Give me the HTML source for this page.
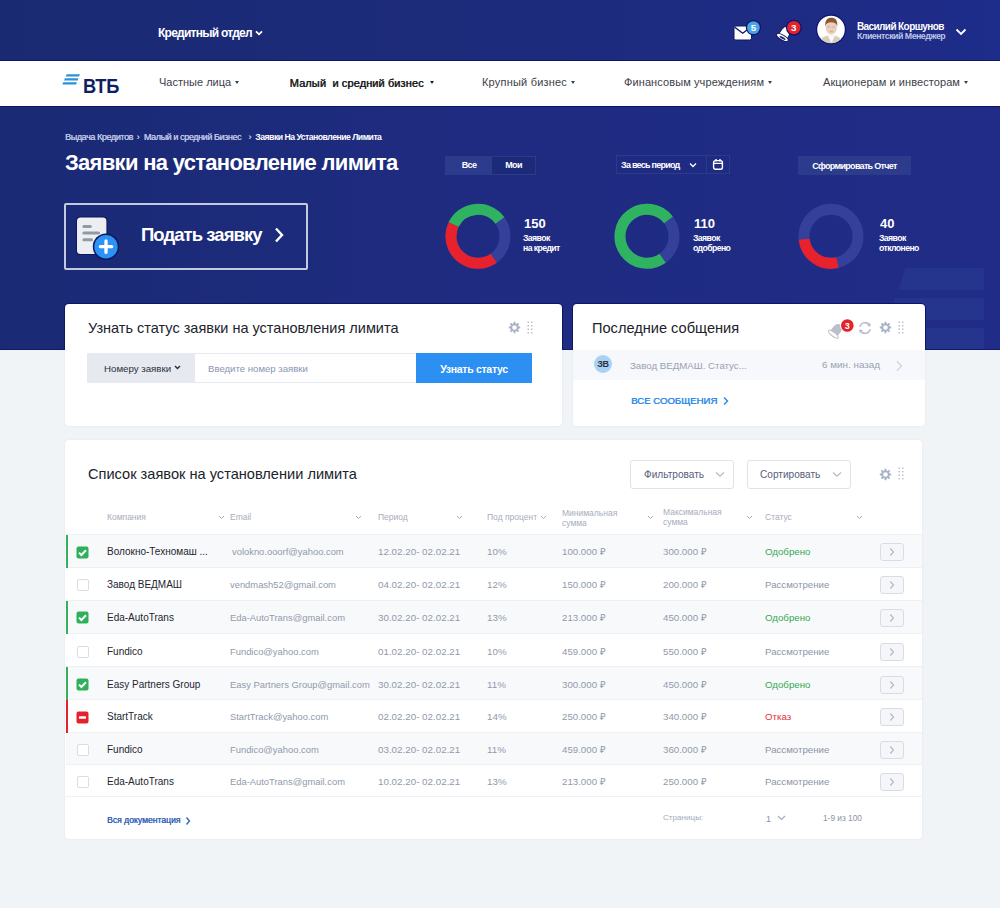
<!DOCTYPE html>
<html><head><meta charset="utf-8">
<style>
*{margin:0;padding:0;box-sizing:border-box}
html,body{width:1000px;height:908px;overflow:hidden;background:#f0f4f7;font-family:"Liberation Sans",sans-serif}
.a{position:absolute;white-space:nowrap}
#top{position:absolute;left:0;top:0;width:1000px;height:60px;background:linear-gradient(90deg,#1a2a72 0%,#1d2b7c 50%,#1e2c8a 100%)}
#nav{position:absolute;z-index:2;left:0;top:60px;width:1000px;height:47px;background:#fff;border-top:1px solid #0d1766;border-bottom:1px solid #0d1766}
#hero{position:absolute;left:0;top:106px;width:1000px;height:244px;background:linear-gradient(90deg,#1a2a74 0%,#1e2b7f 40%,#202c87 100%);overflow:hidden}
.w{color:#fff}
.nv{font-size:11px;color:#3d4048;line-height:14px;letter-spacing:0px}
.caret{display:inline-block;width:0;height:0;border-left:2.5px solid transparent;border-right:2.5px solid transparent;border-top:3px solid #3d4048;vertical-align:middle;margin-left:4px;position:relative;top:-1px}
.card{position:absolute;background:#fff;border-radius:4px;box-shadow:0 0 2px rgba(30,40,80,0.08)}
</style></head><body>

<div id="top">
  <div class="a w" style="left:158px;top:26px;font-size:12px;font-weight:700;line-height:14px;letter-spacing:-0.75px">Кредитный отдел</div>
  <svg class="a" style="left:254.5px;top:29.5px" width="8" height="6" viewBox="0 0 8 6"><path d="M1 1.3 L4 4.3 L7 1.3" fill="none" stroke="#fff" stroke-width="1.8"/></svg>

  <!-- mail -->
  <svg class="a" style="left:730px;top:18px" width="32" height="26" viewBox="0 0 32 26">
    <rect x="4" y="8" width="17.5" height="14" rx="1.8" fill="#fff" stroke="#0f1a5c" stroke-width="1"/>
    <path d="M4.8 9.2 L12.7 15.2 L20.7 9.2" fill="none" stroke="#0d1468" stroke-width="1.4"/>
    <circle cx="23.4" cy="9.6" r="7.6" fill="#0d1468"/>
    <circle cx="23.4" cy="9.6" r="6.4" fill="#4aa3e6"/>
    <text x="23.4" y="13.2" font-family="Liberation Sans" font-weight="700" font-size="9.8" fill="#fff" text-anchor="middle">5</text>
  </svg>
  <!-- bell -->
  <svg class="a" style="left:770px;top:18px" width="34" height="28" viewBox="0 0 34 28">
    <g transform="translate(14.9 15.2) rotate(30)">
      <path d="M-5.2 5 C-4.8 2 -4.8 -1 -4.3 -3 C-3.8 -6 -2.2 -7.2 0 -7.2 C2.2 -7.2 3.8 -6 4.3 -3 C4.8 -1 4.8 2 5.2 5 Z" fill="#fff" stroke="#0f1a5c" stroke-width="0.9"/>
      <ellipse cx="0" cy="5" rx="6.6" ry="2.5" fill="#fff" stroke="#0f1a5c" stroke-width="1"/>
      <ellipse cx="0.3" cy="5.3" rx="3.4" ry="1" fill="#1c2a76"/>
    </g>
    <circle cx="23.8" cy="9.6" r="7.9" fill="#0d1468"/>
    <circle cx="23.8" cy="9.6" r="6.7" fill="#e3222c"/>
    <text x="23.8" y="13.2" font-family="Liberation Sans" font-weight="700" font-size="9.8" fill="#fff" text-anchor="middle">3</text>
  </svg>
  <!-- avatar -->
  <svg class="a" style="left:815px;top:14px" width="32" height="32" viewBox="0 0 32 32">
    <defs><clipPath id="av"><circle cx="16" cy="15.5" r="13.6"/></clipPath></defs>
    <circle cx="16" cy="15.5" r="15" fill="#0d136e"/>
    <circle cx="16" cy="15.5" r="13.8" fill="#fdfdfd"/>
    <g clip-path="url(#av)">
      <path d="M2 32 C4 25 9 21.5 16 21 C23 21.5 28 25 30 32 Z" fill="#dacdb8"/>
      <path d="M12.5 21 L16.5 29 L20 21.5 Z" fill="#fbfbfb"/>
      <ellipse cx="16.3" cy="13.8" rx="5.6" ry="6.8" fill="#ecd0bc"/>
      <path d="M10.3 12.5 C9.8 6 12.5 3.8 16.2 3.8 C20.5 3.8 22.8 6.2 22.2 12.5 C21.5 9.5 19.5 8.3 16.2 8.3 C13 8.3 11 9.5 10.3 12.5 Z" fill="#8a5a35"/>
      <rect x="12.2" y="12.4" width="3" height="1.1" fill="#c8b0a4"/><rect x="17.4" y="12.4" width="3" height="1.1" fill="#c8b0a4"/>
      <ellipse cx="16.3" cy="17.5" rx="2" ry="0.8" fill="#dba79c"/>
    </g>
  </svg>
  <div class="a w" style="left:857px;top:20.7px;font-size:10px;font-weight:700;line-height:12px;letter-spacing:-0.6px">Василий Коршунов</div>
  <div class="a" style="left:857px;top:31px;font-size:8.8px;font-weight:700;line-height:11px;color:#bfc5e6;letter-spacing:-0.5px">Клиентский Менеджер</div>
  <svg class="a" style="left:955px;top:28px" width="12" height="8" viewBox="0 0 12 8"><path d="M1.5 1.5 L6 6 L10.5 1.5" fill="none" stroke="#fff" stroke-width="1.8"/></svg>
</div>

<div id="nav">
  <!-- logo -->
  <svg class="a" style="left:62px;top:11px" width="20" height="14" viewBox="0 0 20 14">
    <path d="M4.6 2.3 H17.9 L17 4.5 H3.7 Z" fill="#2a90da"/>
    <path d="M2.95 6.2 H16.55 L15.65 8.4 H2.05 Z" fill="#2a90da"/>
    <path d="M1.25 10.2 H14.95 L14.05 12.4 H0.35 Z" fill="#2a90da"/>
  </svg>
  <div class="a" style="left:82.8px;top:14.3px;font-size:21px;font-weight:700;color:#0f1f63;line-height:22px;letter-spacing:-0.3px;transform:scaleX(0.87);transform-origin:0 0">ВТБ</div>

  <div class="a nv" style="left:159px;top:14.2px">Частные лица<span class="caret"></span></div>
  <div class="a nv" style="left:289.5px;top:14.8px;font-weight:400;color:#1a1c24;letter-spacing:0.1px;text-shadow:0.5px 0 0 #1a1c24">Малый&nbsp; и средний бизнес<span class="caret" style="border-top-color:#1e2130;margin-left:6px"></span></div>
  <div class="a nv" style="left:482px;top:14.2px;letter-spacing:0.2px">Крупный бизнес<span class="caret"></span></div>
  <div class="a nv" style="left:624px;top:14.2px;letter-spacing:0.1px">Финансовым учреждениям<span class="caret"></span></div>
  <div class="a nv" style="left:823px;top:14.2px;letter-spacing:0.07px">Акционерам и инвесторам<span class="caret"></span></div>
</div>

<div id="hero">
  <!-- decorative stripes -->
  <svg class="a" style="left:880px;top:150px" width="120" height="100" viewBox="0 0 120 100">
    <path d="M25 12 H104 V34 H19 Z" fill="#25358e"/>
    <path d="M15 42 H104 V64 H10 Z" fill="#25358e"/>
    <path d="M8 72 H104 V94 H2 Z" fill="#25358e"/>
  </svg>
  <div class="a" style="left:0;top:243px;width:1000px;height:1px;background:#101870"></div>


  <div class="a" style="left:65px;top:25.7px;font-size:9px;line-height:11px;color:#c0c6e4;letter-spacing:-0.4px;text-shadow:0.35px 0 0 #c0c6e4">Выдача Кредитов</div><div class="a" style="left:136.5px;top:25.7px;font-size:9px;line-height:11px;color:#c0c6e4;letter-spacing:-0.4px;text-shadow:0.35px 0 0 #c0c6e4">›</div><div class="a" style="left:143.8px;top:25.7px;font-size:9px;line-height:11px;color:#c0c6e4;letter-spacing:-0.4px;text-shadow:0.35px 0 0 #c0c6e4">Малый и средний Бизнес</div><div class="a" style="left:248.3px;top:25.7px;font-size:9px;line-height:11px;color:#c0c6e4;letter-spacing:-0.4px;text-shadow:0.35px 0 0 #c0c6e4">›</div><div class="a" style="left:255.3px;top:25.9px;line-height:11px;color:#fff;font-weight:700;font-size:8.7px;letter-spacing:-0.52px">Заявки На Установление Лимита</div>
  <div class="a w" style="left:65px;top:44px;font-size:22px;font-weight:700;line-height:26px;letter-spacing:-0.7px">Заявки на установление лимита</div>

  <!-- big button -->
  <div class="a" style="left:64px;top:97px;width:244px;height:67px;border:2px solid #c5c9de;border-radius:2px"></div>
  <svg class="a" style="left:72px;top:108px" width="50" height="50" viewBox="0 0 50 50">
    <rect x="4" y="2.6" width="31.4" height="38.4" rx="4" fill="#0e1760"/>
    <rect x="5" y="3.6" width="29.4" height="36.4" rx="3.5" fill="#eceef1"/>
    <rect x="10.4" y="10.9" width="9.4" height="3" rx="1.5" fill="#8f9aa3"/>
    <rect x="10.4" y="17.5" width="17.6" height="3" rx="1.5" fill="#8f9aa3"/>
    <rect x="10.4" y="24.2" width="10.6" height="3" rx="1.5" fill="#8f9aa3"/>
    <circle cx="34" cy="32.7" r="13.2" fill="#0e1760"/>
    <circle cx="34" cy="32.7" r="11.7" fill="#2b93f5"/>
    <path d="M34 27 V38.4 M28.3 32.7 H39.7" stroke="#fff" stroke-width="3.3" stroke-linecap="round"/>
  </svg>
  <div class="a w" style="left:141px;top:117px;font-size:18.5px;font-weight:700;line-height:24px;letter-spacing:-0.95px">Подать заявку</div>
  <svg class="a" style="left:272px;top:119px" width="14" height="20" viewBox="0 0 14 20"><path d="M4 3.5 L10 10 L4 16.5" fill="none" stroke="#fff" stroke-width="2.4"/></svg>

  <!-- toggle -->
  <div class="a" style="left:445px;top:50px;width:91px;height:19px;border:1px solid #2c3a8a;background:#1d2a78"></div>
  <div class="a" style="left:446px;top:51px;width:46px;height:17px;background:#2d3b8d"></div>
  <div class="a w" style="left:446px;top:54px;width:46px;text-align:center;font-size:9px;font-weight:700;line-height:11px;letter-spacing:-0.6px">Все</div>
  <div class="a w" style="left:492px;top:54px;width:43px;text-align:center;font-size:9px;font-weight:700;line-height:11px;letter-spacing:-0.6px">Мои</div>

  <!-- period -->
  <div class="a" style="left:616px;top:49px;width:91px;height:19px;border:1px solid #2c3a8a"></div>
  <div class="a" style="left:706px;top:49px;width:24px;height:19px;border:1px solid #2c3a8a"></div>
  <div class="a w" style="left:621px;top:54px;font-size:9px;font-weight:700;line-height:11px;letter-spacing:-0.75px">За весь период</div>
  <svg class="a" style="left:689px;top:56px" width="8" height="6" viewBox="0 0 8 6"><path d="M1 1.5 L4 4.5 L7 1.5" fill="none" stroke="#fff" stroke-width="1.3"/></svg>
  <svg class="a" style="left:712px;top:52px" width="12" height="12" viewBox="0 0 12 12"><rect x="1.6" y="2.6" width="8.8" height="8.6" rx="1.8" fill="none" stroke="#fff" stroke-width="1.4"/><path d="M1.6 5.4 H10.4 M4 1 V3.6 M8 1 V3.6" stroke="#fff" stroke-width="1.4"/></svg>

  <!-- report button -->
  <div class="a" style="left:798px;top:50px;width:113px;height:19px;background:#2d3b8d"></div>
  <div class="a w" style="left:798px;top:54.5px;width:113px;text-align:center;font-size:9px;font-weight:700;line-height:11px;letter-spacing:-0.7px">Сформировать Отчет</div>

  <!-- donuts -->
  <svg class="a" style="left:440px;top:94px" width="76" height="76" viewBox="0 0 76 76">
    <g transform="translate(38 36.3)" fill="none" stroke-width="11">
      <circle r="27" stroke="#34409a"/>
      <path d="M-24.39 -11.58 A27 27 0 0 1 21.87 -15.83" stroke="#2fb360"/>
      <path d="M15.72 21.95 A27 27 0 0 1 -24.39 -11.58" stroke="#e8222d"/>
    </g>
  </svg>
  <svg class="a" style="left:609px;top:94px" width="76" height="76" viewBox="0 0 76 76">
    <g transform="translate(38 36.3)" fill="none" stroke-width="11">
      <circle r="27" stroke="#34409a"/>
      <path d="M15.60 22.04 A27 27 0 1 1 21.48 -16.36" stroke="#2fb360"/>
    </g>
  </svg>
  <svg class="a" style="left:793px;top:94px" width="76" height="76" viewBox="0 0 76 76">
    <g transform="translate(38 36.3)" fill="none" stroke-width="11">
      <circle r="27" stroke="#34409a"/>
      <path d="M6.44 26.22 A27 27 0 0 1 -26.84 2.96" stroke="#e8222d"/>
    </g>
  </svg>

  <div class="a w" style="left:524px;top:110px;font-size:13px;font-weight:700;line-height:15px">150</div>
  <div class="a w" style="left:523px;top:127px;font-size:8.7px;font-weight:700;line-height:10px;letter-spacing:-0.6px">Заявок<br>на кредит</div>
  <div class="a w" style="left:694px;top:110px;font-size:13px;font-weight:700;line-height:15px">110</div>
  <div class="a w" style="left:693px;top:127px;font-size:8.7px;font-weight:700;line-height:10px;letter-spacing:-0.6px">Заявок<br>одобрено</div>
  <div class="a w" style="left:880px;top:110px;font-size:13px;font-weight:700;line-height:15px">40</div>
  <div class="a w" style="left:879px;top:127px;font-size:8.7px;font-weight:700;line-height:10px;letter-spacing:-0.6px">Заявок<br>отклонено</div>
</div>

<svg width="0" height="0" style="position:absolute">
 <defs>
  <g id="gear"><path d="M-0.81 -5.74 L0.81 -5.74 L1.13 -3.94 L1.99 -3.59 L3.49 -4.63 L4.63 -3.49 L3.59 -1.99 L3.94 -1.13 L5.74 -0.81 L5.74 0.81 L3.94 1.13 L3.59 1.99 L4.63 3.49 L3.49 4.63 L1.99 3.59 L1.13 3.94 L0.81 5.74 L-0.81 5.74 L-1.13 3.94 L-1.99 3.59 L-3.49 4.63 L-4.63 3.49 L-3.59 1.99 L-3.94 1.13 L-5.74 0.81 L-5.74 -0.81 L-3.94 -1.13 L-3.59 -1.99 L-4.63 -3.49 L-3.49 -4.63 L-1.99 -3.59 L-1.13 -3.94 Z M2.3 0 A2.3 2.3 0 1 0 -2.3 0 A2.3 2.3 0 1 0 2.3 0 Z" fill="#aab3c5" fill-rule="evenodd"/></g>
  <g id="dots" fill="#b3bac8">
   <rect x="0.5" y="0.5" width="1.4" height="1.4"/><rect x="4" y="0.5" width="1.4" height="1.4"/>
   <rect x="0.5" y="4" width="1.4" height="1.4"/><rect x="4" y="4" width="1.4" height="1.4"/>
   <rect x="0.5" y="7.5" width="1.4" height="1.4"/><rect x="4" y="7.5" width="1.4" height="1.4"/>
   <rect x="0.5" y="11" width="1.4" height="1.4"/><rect x="4" y="11" width="1.4" height="1.4"/>
  </g>
 </defs></svg>

<div class="a" style="left:64px;top:303px;width:499px;height:47px;background:#0f176a;border-radius:5px 5px 0 0"></div>
<div class="a" style="left:572px;top:303px;width:354px;height:47px;background:#0f176a;border-radius:5px 5px 0 0"></div>
<!-- card 1 -->
<div class="card" style="left:65px;top:304px;width:497px;height:122px"></div>
<div class="a" style="left:88px;top:320.3px;font-size:14.5px;line-height:17px;color:#20232c">Узнать статус заявки на установления лимита</div>
<svg class="a gear" style="left:508px;top:321px" width="13" height="13" viewBox="-6.5 -6.5 13 13"><use href="#gear"/></svg>
<svg class="a" style="left:527px;top:320.5px" width="6" height="14" viewBox="0 0 6 14"><use href="#dots"/></svg>
<div class="a" style="left:87px;top:353px;width:445px;height:30px;border-top:1px solid #e6e9ee;border-bottom:1px solid #e6e9ee"></div>
<div class="a" style="left:87px;top:353px;width:108px;height:30px;background:#e6e9ef"></div>
<div class="a" style="left:104px;top:362.7px;font-size:9.7px;line-height:12px;color:#2b2f3b">Номеру заявки</div>
<svg class="a" style="left:174px;top:365px" width="7" height="5" viewBox="0 0 7 5"><path d="M1 1 L3.5 3.5 L6 1" fill="none" stroke="#2b2f3b" stroke-width="1.4"/></svg>
<div class="a" style="left:208px;top:362.8px;font-size:9.6px;line-height:12px;color:#8b95b0">Введите номер заявки</div>
<div class="a" style="left:416px;top:353px;width:116px;height:30px;background:#2b90f2"></div>
<div class="a" style="left:416px;top:362.5px;width:116px;text-align:center;font-size:10.5px;font-weight:700;line-height:12px;color:#fff;letter-spacing:-0.3px">Узнать статус</div>

<!-- card 2 -->
<div class="card" style="left:573px;top:304px;width:352px;height:122px"></div>
<div class="a" style="left:592px;top:320.3px;font-size:14.6px;line-height:17px;color:#20232c">Последние собщения</div>
<svg class="a" style="left:826px;top:316px" width="30" height="26" viewBox="0 0 30 26">
  <g transform="rotate(38 11 15)">
    <path d="M5.5 19.5 L5.5 13.5 C5.5 9.8 7.4 8 10 8 C12.6 8 14.5 9.8 14.5 13.5 L14.5 19.5 Z" fill="#b9bfcb"/>
    <ellipse cx="10" cy="19.8" rx="6" ry="2" fill="#fff" stroke="#b9bfcb" stroke-width="1.1"/>
  </g>
  <circle cx="21.3" cy="9.5" r="7.2" fill="#fff"/>
  <circle cx="21.3" cy="9.5" r="6.3" fill="#e3222c"/>
  <text x="21.3" y="12.8" font-family="Liberation Sans" font-weight="700" font-size="9" fill="#fff" text-anchor="middle">3</text>
</svg>
<svg class="a" style="left:857px;top:320px" width="16" height="16" viewBox="-8 -8 16 16">
  <path d="M4.9 -2.2 A5.3 5.3 0 0 0 -5.1 -1.2" fill="none" stroke="#b9bfcb" stroke-width="1.6"/>
  <path d="M5.6 -5 L5.4 -1.2 L1.8 -2.4 Z" fill="#b9bfcb"/>
  <path d="M-4.9 2.2 A5.3 5.3 0 0 0 5.1 1.2" fill="none" stroke="#b9bfcb" stroke-width="1.6"/>
  <path d="M-5.6 5 L-5.4 1.2 L-1.8 2.4 Z" fill="#b9bfcb"/>
</svg>
<svg class="a" style="left:879px;top:321px" width="13" height="13" viewBox="-6.5 -6.5 13 13"><use href="#gear"/></svg>
<svg class="a" style="left:898px;top:321px" width="6" height="14" viewBox="0 0 6 14"><use href="#dots"/></svg>
<div class="a" style="left:573px;top:350px;width:352px;height:30px;background:#f6f8fb"></div>
<div class="a" style="left:594px;top:355px;width:18px;height:18px;border-radius:50%;background:#a9d2f4"></div>
<div class="a" style="left:594px;top:358.5px;width:18px;text-align:center;font-size:9px;font-weight:700;line-height:10px;color:#2a3142;letter-spacing:-0.3px">ЗВ</div>
<div class="a" style="left:630px;top:359.5px;font-size:9.7px;line-height:12px;color:#9aa1b2">Завод ВЕДМАШ. Статус...</div>
<div class="a" style="left:822px;top:359px;font-size:9.9px;line-height:12px;color:#9aa1b2">6 мин. назад</div>
<svg class="a" style="left:895px;top:360px" width="9" height="12" viewBox="0 0 9 12"><path d="M2 1.2 L6.5 6 L2 10.8" fill="none" stroke="#d0d5de" stroke-width="1.3"/></svg>
<div class="a" style="left:631px;top:395px;font-size:9.6px;line-height:12px;color:#2f8de6;letter-spacing:0px;text-shadow:0.4px 0 0 #2f8de6">ВСЕ СООБЩЕНИЯ</div>
<svg class="a" style="left:722px;top:396px" width="8" height="10" viewBox="0 0 8 10"><path d="M2 1.5 L5.5 5 L2 8.5" fill="none" stroke="#2f8de6" stroke-width="1.5"/></svg>

<!-- card 3 -->
<div class="card" style="left:65px;top:440px;width:857px;height:399px"></div>
<div class="a" style="left:88px;top:466px;font-size:14.6px;line-height:17px;color:#20232c">Список заявок на установлении лимита</div>
<div class="a" style="left:630px;top:460px;width:104px;height:29px;border:1px solid #dfe2e8;border-radius:3px"></div>
<div class="a" style="left:644px;top:469px;font-size:10.1px;line-height:12px;color:#56607a">Фильтровать</div>
<svg class="a" style="left:715px;top:471px" width="10" height="7" viewBox="0 0 10 7"><path d="M1 1.5 L5 5.2 L9 1.5" fill="none" stroke="#b2b8c6" stroke-width="1.1"/></svg>
<div class="a" style="left:747px;top:460px;width:104px;height:29px;border:1px solid #dfe2e8;border-radius:3px"></div>
<div class="a" style="left:760px;top:469px;font-size:10.1px;line-height:12px;color:#56607a">Сортировать</div>
<svg class="a" style="left:832px;top:471px" width="10" height="7" viewBox="0 0 10 7"><path d="M1 1.5 L5 5.2 L9 1.5" fill="none" stroke="#b2b8c6" stroke-width="1.1"/></svg>
<svg class="a" style="left:879px;top:468px" width="13" height="13" viewBox="-6.5 -6.5 13 13"><use href="#gear"/></svg>
<svg class="a" style="left:898px;top:467px" width="6" height="14" viewBox="0 0 6 14"><use href="#dots"/></svg>
<!--TABLE-->
<div class="a" style="left:107px;top:512px;color:#a7adbd;font-size:8.5px;line-height:10px">Компания</div>
<div class="a" style="left:230px;top:512px;color:#a7adbd;font-size:8.5px;line-height:10px">Email</div>
<div class="a" style="left:378px;top:512px;color:#a7adbd;font-size:8.5px;line-height:10px">Период</div>
<div class="a" style="left:487px;top:512px;color:#a7adbd;font-size:8.5px;line-height:10px">Под процент</div>
<div class="a" style="left:562px;top:508px;color:#a7adbd;font-size:8.5px;line-height:10px">Минимальная<br>сумма</div>
<div class="a" style="left:663px;top:507px;color:#a7adbd;font-size:8.5px;line-height:10px">Максимальная<br>сумма</div>
<div class="a" style="left:765px;top:512px;color:#a7adbd;font-size:8.5px;line-height:10px">Статус</div>
<svg class="a" style="left:218px;top:515px" width="7" height="5" viewBox="0 0 7 5"><path d="M1 1 L3.5 3.5 L6 1" fill="none" stroke="#a7adbd" stroke-width="1"/></svg>
<svg class="a" style="left:355px;top:515px" width="7" height="5" viewBox="0 0 7 5"><path d="M1 1 L3.5 3.5 L6 1" fill="none" stroke="#a7adbd" stroke-width="1"/></svg>
<svg class="a" style="left:456px;top:515px" width="7" height="5" viewBox="0 0 7 5"><path d="M1 1 L3.5 3.5 L6 1" fill="none" stroke="#a7adbd" stroke-width="1"/></svg>
<svg class="a" style="left:540px;top:515px" width="7" height="5" viewBox="0 0 7 5"><path d="M1 1 L3.5 3.5 L6 1" fill="none" stroke="#a7adbd" stroke-width="1"/></svg>
<svg class="a" style="left:647px;top:515px" width="7" height="5" viewBox="0 0 7 5"><path d="M1 1 L3.5 3.5 L6 1" fill="none" stroke="#a7adbd" stroke-width="1"/></svg>
<svg class="a" style="left:746px;top:515px" width="7" height="5" viewBox="0 0 7 5"><path d="M1 1 L3.5 3.5 L6 1" fill="none" stroke="#a7adbd" stroke-width="1"/></svg>
<svg class="a" style="left:856px;top:515px" width="7" height="5" viewBox="0 0 7 5"><path d="M1 1 L3.5 3.5 L6 1" fill="none" stroke="#a7adbd" stroke-width="1"/></svg>
<div class="a" style="left:66px;top:534px;width:856px;height:1px;background:#edf0f4"></div>
<div class="a" style="left:66px;top:535px;width:856px;height:33px;background:#f8f9fb;border-bottom:1px solid #edf0f4"></div>
<div class="a" style="left:66px;top:535px;width:2px;height:33px;background:#34b05a"></div>
<svg class="a" style="left:76px;top:545.7px" width="13" height="13" viewBox="0 0 13 13"><rect x="0.5" y="0.5" width="12" height="12" rx="2" fill="#2fb05a"/><path d="M3 6.6 L5.4 9 L10 4.2" fill="none" stroke="#fff" stroke-width="2"/></svg>
<div class="a" style="left:107px;top:546.2px;font-size:10px;line-height:12px;color:#23262f">Волокно-Техномаш ...</div>
<div class="a" style="left:232px;top:546.2px;font-size:9.4px;line-height:12px;color:#9199ab">volokno.ooorf@yahoo.com</div>
<div class="a" style="left:378px;top:546.2px;font-size:9.8px;line-height:12px;color:#9199ab">12.02.20- 02.02.21</div>
<div class="a" style="left:487px;top:546.2px;font-size:9.8px;line-height:12px;color:#9199ab">10%</div>
<div class="a" style="left:562px;top:546.2px;font-size:9.7px;line-height:12px;color:#9199ab">100.000 ₽</div>
<div class="a" style="left:663px;top:546.2px;font-size:9.7px;line-height:12px;color:#9199ab">300.000 ₽</div>
<div class="a" style="left:765px;top:546.2px;font-size:9.7px;line-height:12px;color:#35a853">Одобрено</div>
<svg class="a" style="left:880px;top:543.0px" width="24" height="18" viewBox="0 0 24 18"><rect x="0.5" y="0.5" width="23" height="17" rx="2.5" fill="#f5f6f9" stroke="#d9dce3"/><path d="M10.3 5.5 L13.5 9 L10.3 12.5" fill="none" stroke="#b5b9c3" stroke-width="1.2"/></svg>
<div class="a" style="left:66px;top:568px;width:856px;height:33px;background:#fff;border-bottom:1px solid #edf0f4"></div>
<div class="a" style="left:76.5px;top:579.2px;width:12px;height:12px;border:1px solid #d9dde4;border-radius:2px;background:#fff"></div>
<div class="a" style="left:107px;top:579.2px;font-size:10px;line-height:12px;color:#23262f">Завод ВЕДМАШ</div>
<div class="a" style="left:230px;top:579.2px;font-size:9.4px;line-height:12px;color:#9199ab">vendmash52@gmail.com</div>
<div class="a" style="left:378px;top:579.2px;font-size:9.8px;line-height:12px;color:#9199ab">04.02.20- 02.02.21</div>
<div class="a" style="left:487px;top:579.2px;font-size:9.8px;line-height:12px;color:#9199ab">12%</div>
<div class="a" style="left:562px;top:579.2px;font-size:9.7px;line-height:12px;color:#9199ab">150.000 ₽</div>
<div class="a" style="left:663px;top:579.2px;font-size:9.7px;line-height:12px;color:#9199ab">200.000 ₽</div>
<div class="a" style="left:765px;top:579.2px;font-size:9.7px;line-height:12px;color:#8d95a6">Рассмотрение</div>
<svg class="a" style="left:880px;top:576.0px" width="24" height="18" viewBox="0 0 24 18"><rect x="0.5" y="0.5" width="23" height="17" rx="2.5" fill="#f5f6f9" stroke="#d9dce3"/><path d="M10.3 5.5 L13.5 9 L10.3 12.5" fill="none" stroke="#b5b9c3" stroke-width="1.2"/></svg>
<div class="a" style="left:66px;top:601px;width:856px;height:33px;background:#f8f9fb;border-bottom:1px solid #edf0f4"></div>
<div class="a" style="left:66px;top:601px;width:2px;height:33px;background:#34b05a"></div>
<svg class="a" style="left:76px;top:611.2px" width="13" height="13" viewBox="0 0 13 13"><rect x="0.5" y="0.5" width="12" height="12" rx="2" fill="#2fb05a"/><path d="M3 6.6 L5.4 9 L10 4.2" fill="none" stroke="#fff" stroke-width="2"/></svg>
<div class="a" style="left:107px;top:611.7px;font-size:10px;line-height:12px;color:#23262f">Eda-AutoTrans</div>
<div class="a" style="left:230px;top:611.7px;font-size:9.4px;line-height:12px;color:#9199ab">Eda-AutoTrans@gmail.com</div>
<div class="a" style="left:378px;top:611.7px;font-size:9.8px;line-height:12px;color:#9199ab">30.02.20- 02.02.21</div>
<div class="a" style="left:487px;top:611.7px;font-size:9.8px;line-height:12px;color:#9199ab">13%</div>
<div class="a" style="left:562px;top:611.7px;font-size:9.7px;line-height:12px;color:#9199ab">213.000 ₽</div>
<div class="a" style="left:663px;top:611.7px;font-size:9.7px;line-height:12px;color:#9199ab">450.000 ₽</div>
<div class="a" style="left:765px;top:611.7px;font-size:9.7px;line-height:12px;color:#35a853">Одобрено</div>
<svg class="a" style="left:880px;top:608.5px" width="24" height="18" viewBox="0 0 24 18"><rect x="0.5" y="0.5" width="23" height="17" rx="2.5" fill="#f5f6f9" stroke="#d9dce3"/><path d="M10.3 5.5 L13.5 9 L10.3 12.5" fill="none" stroke="#b5b9c3" stroke-width="1.2"/></svg>
<div class="a" style="left:66px;top:634px;width:856px;height:33px;background:#fff;border-bottom:1px solid #edf0f4"></div>
<div class="a" style="left:76.5px;top:645.7px;width:12px;height:12px;border:1px solid #d9dde4;border-radius:2px;background:#fff"></div>
<div class="a" style="left:107px;top:645.7px;font-size:10px;line-height:12px;color:#23262f">Fundico</div>
<div class="a" style="left:230px;top:645.7px;font-size:9.4px;line-height:12px;color:#9199ab">Fundico@yahoo.com</div>
<div class="a" style="left:378px;top:645.7px;font-size:9.8px;line-height:12px;color:#9199ab">01.02.20- 02.02.21</div>
<div class="a" style="left:487px;top:645.7px;font-size:9.8px;line-height:12px;color:#9199ab">10%</div>
<div class="a" style="left:562px;top:645.7px;font-size:9.7px;line-height:12px;color:#9199ab">459.000 ₽</div>
<div class="a" style="left:663px;top:645.7px;font-size:9.7px;line-height:12px;color:#9199ab">550.000 ₽</div>
<div class="a" style="left:765px;top:645.7px;font-size:9.7px;line-height:12px;color:#8d95a6">Рассмотрение</div>
<svg class="a" style="left:880px;top:642.5px" width="24" height="18" viewBox="0 0 24 18"><rect x="0.5" y="0.5" width="23" height="17" rx="2.5" fill="#f5f6f9" stroke="#d9dce3"/><path d="M10.3 5.5 L13.5 9 L10.3 12.5" fill="none" stroke="#b5b9c3" stroke-width="1.2"/></svg>
<div class="a" style="left:66px;top:667px;width:856px;height:33px;background:#f8f9fb;border-bottom:1px solid #edf0f4"></div>
<div class="a" style="left:66px;top:667px;width:2px;height:33px;background:#34b05a"></div>
<svg class="a" style="left:76px;top:678.2px" width="13" height="13" viewBox="0 0 13 13"><rect x="0.5" y="0.5" width="12" height="12" rx="2" fill="#2fb05a"/><path d="M3 6.6 L5.4 9 L10 4.2" fill="none" stroke="#fff" stroke-width="2"/></svg>
<div class="a" style="left:107px;top:678.7px;font-size:10px;line-height:12px;color:#23262f">Easy Partners Group</div>
<div class="a" style="left:230px;top:678.7px;font-size:9.4px;line-height:12px;color:#9199ab">Easy Partners Group@gmail.com</div>
<div class="a" style="left:378px;top:678.7px;font-size:9.8px;line-height:12px;color:#9199ab">30.02.20- 02.02.21</div>
<div class="a" style="left:487px;top:678.7px;font-size:9.8px;line-height:12px;color:#9199ab">11%</div>
<div class="a" style="left:562px;top:678.7px;font-size:9.7px;line-height:12px;color:#9199ab">300.000 ₽</div>
<div class="a" style="left:663px;top:678.7px;font-size:9.7px;line-height:12px;color:#9199ab">450.000 ₽</div>
<div class="a" style="left:765px;top:678.7px;font-size:9.7px;line-height:12px;color:#35a853">Одобрено</div>
<svg class="a" style="left:880px;top:675.5px" width="24" height="18" viewBox="0 0 24 18"><rect x="0.5" y="0.5" width="23" height="17" rx="2.5" fill="#f5f6f9" stroke="#d9dce3"/><path d="M10.3 5.5 L13.5 9 L10.3 12.5" fill="none" stroke="#b5b9c3" stroke-width="1.2"/></svg>
<div class="a" style="left:66px;top:700px;width:856px;height:33px;background:#fff;border-bottom:1px solid #edf0f4"></div>
<div class="a" style="left:66px;top:700px;width:2px;height:33px;background:#e3222c"></div>
<svg class="a" style="left:76px;top:710.7px" width="13" height="13" viewBox="0 0 13 13"><rect x="0.5" y="0.5" width="12" height="12" rx="2" fill="#e3222c"/><rect x="3" y="5.3" width="7" height="2.4" rx="0.5" fill="#fff"/></svg>
<div class="a" style="left:107px;top:711.2px;font-size:10px;line-height:12px;color:#23262f">StartTrack</div>
<div class="a" style="left:230px;top:711.2px;font-size:9.4px;line-height:12px;color:#9199ab">StartTrack@yahoo.com</div>
<div class="a" style="left:378px;top:711.2px;font-size:9.8px;line-height:12px;color:#9199ab">02.02.20- 02.02.21</div>
<div class="a" style="left:487px;top:711.2px;font-size:9.8px;line-height:12px;color:#9199ab">14%</div>
<div class="a" style="left:562px;top:711.2px;font-size:9.7px;line-height:12px;color:#9199ab">250.000 ₽</div>
<div class="a" style="left:663px;top:711.2px;font-size:9.7px;line-height:12px;color:#9199ab">340.000 ₽</div>
<div class="a" style="left:765px;top:711.2px;font-size:9.7px;line-height:12px;color:#e0313b">Отказ</div>
<svg class="a" style="left:880px;top:708.0px" width="24" height="18" viewBox="0 0 24 18"><rect x="0.5" y="0.5" width="23" height="17" rx="2.5" fill="#f5f6f9" stroke="#d9dce3"/><path d="M10.3 5.5 L13.5 9 L10.3 12.5" fill="none" stroke="#b5b9c3" stroke-width="1.2"/></svg>
<div class="a" style="left:66px;top:733px;width:856px;height:32px;background:#f8f9fb;border-bottom:1px solid #edf0f4"></div>
<div class="a" style="left:76.5px;top:744.2px;width:12px;height:12px;border:1px solid #d9dde4;border-radius:2px;background:#fff"></div>
<div class="a" style="left:107px;top:744.2px;font-size:10px;line-height:12px;color:#23262f">Fundico</div>
<div class="a" style="left:230px;top:744.2px;font-size:9.4px;line-height:12px;color:#9199ab">Fundico@yahoo.com</div>
<div class="a" style="left:378px;top:744.2px;font-size:9.8px;line-height:12px;color:#9199ab">03.02.20- 02.02.21</div>
<div class="a" style="left:487px;top:744.2px;font-size:9.8px;line-height:12px;color:#9199ab">11%</div>
<div class="a" style="left:562px;top:744.2px;font-size:9.7px;line-height:12px;color:#9199ab">459.000 ₽</div>
<div class="a" style="left:663px;top:744.2px;font-size:9.7px;line-height:12px;color:#9199ab">360.000 ₽</div>
<div class="a" style="left:765px;top:744.2px;font-size:9.7px;line-height:12px;color:#8d95a6">Рассмотрение</div>
<svg class="a" style="left:880px;top:741.0px" width="24" height="18" viewBox="0 0 24 18"><rect x="0.5" y="0.5" width="23" height="17" rx="2.5" fill="#f5f6f9" stroke="#d9dce3"/><path d="M10.3 5.5 L13.5 9 L10.3 12.5" fill="none" stroke="#b5b9c3" stroke-width="1.2"/></svg>
<div class="a" style="left:66px;top:765px;width:856px;height:32px;background:#fff;border-bottom:1px solid #edf0f4"></div>
<div class="a" style="left:76.5px;top:775.7px;width:12px;height:12px;border:1px solid #d9dde4;border-radius:2px;background:#fff"></div>
<div class="a" style="left:107px;top:775.7px;font-size:10px;line-height:12px;color:#23262f">Eda-AutoTrans</div>
<div class="a" style="left:230px;top:775.7px;font-size:9.4px;line-height:12px;color:#9199ab">Eda-AutoTrans@gmail.com</div>
<div class="a" style="left:378px;top:775.7px;font-size:9.8px;line-height:12px;color:#9199ab">10.02.20- 02.02.21</div>
<div class="a" style="left:487px;top:775.7px;font-size:9.8px;line-height:12px;color:#9199ab">13%</div>
<div class="a" style="left:562px;top:775.7px;font-size:9.7px;line-height:12px;color:#9199ab">213.000 ₽</div>
<div class="a" style="left:663px;top:775.7px;font-size:9.7px;line-height:12px;color:#9199ab">250.000 ₽</div>
<div class="a" style="left:765px;top:775.7px;font-size:9.7px;line-height:12px;color:#8d95a6">Рассмотрение</div>
<svg class="a" style="left:880px;top:772.5px" width="24" height="18" viewBox="0 0 24 18"><rect x="0.5" y="0.5" width="23" height="17" rx="2.5" fill="#f5f6f9" stroke="#d9dce3"/><path d="M10.3 5.5 L13.5 9 L10.3 12.5" fill="none" stroke="#b5b9c3" stroke-width="1.2"/></svg>
<div class="a" style="left:107px;top:815px;font-size:8.6px;line-height:11px;color:#2f63b6;text-shadow:0.3px 0 0 #2f63b6">Вся документация</div>
<svg class="a" style="left:184px;top:816px" width="8" height="10" viewBox="0 0 8 10"><path d="M2.5 1.5 L5.5 5 L2.5 8.5" fill="none" stroke="#2f63b6" stroke-width="1.3"/></svg>
<div class="a" style="left:663px;top:812px;font-size:8.1px;line-height:11px;color:#a4aaba">Страницы:</div>
<div class="a" style="left:766px;top:814px;font-size:9px;line-height:11px;color:#8b93a6">1</div>
<svg class="a" style="left:777px;top:815px" width="9" height="6" viewBox="0 0 9 6"><path d="M1 1 L4.5 4.5 L8 1" fill="none" stroke="#a4aaba" stroke-width="1.1"/></svg>
<div class="a" style="left:823px;top:813px;font-size:8.3px;line-height:11px;color:#8b93a6">1-9 из 100</div>
<!--/TABLE-->

</body></html>
